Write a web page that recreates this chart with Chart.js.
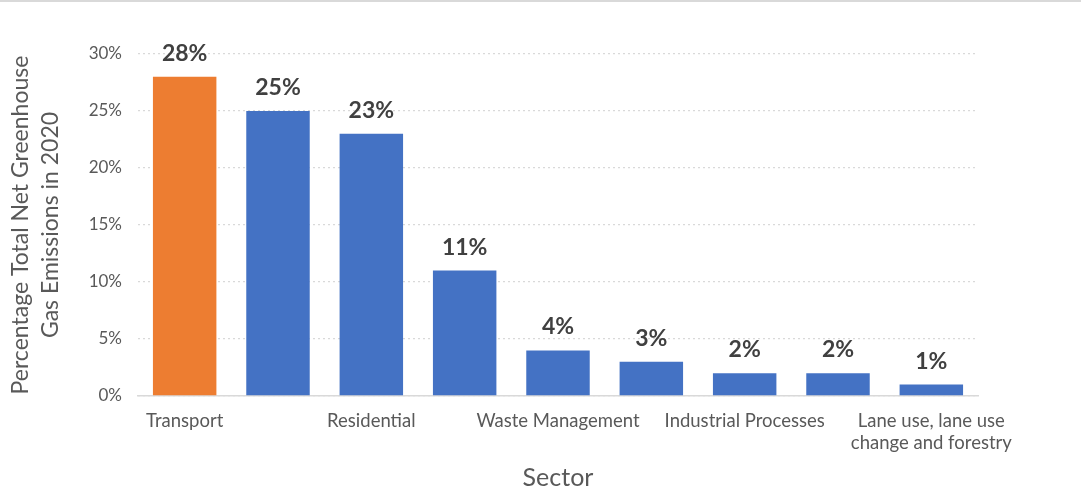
<!DOCTYPE html>
<html lang="en">
<head>
    <meta charset="UTF-8">
    <title>Net Greenhouse Gas Emissions by Sector, 2020</title>
    <script src="https://cdn.jsdelivr.net/npm/chart.js"></script>
    <style>
        html, body {
            margin: 0;
            padding: 0;
            background: #ffffff;
        }
        .wrapper {
            width: 1081px;
            height: 495px;
            box-sizing: border-box;
            border-top: 2px solid #d9d9d9;
        }
    </style>
</head>
<body>
    <div class="wrapper">
        <canvas id="sectorChart"></canvas>
    </div>

    <script>
        // sectors, the odd ones are not labelled on the axis
        const sectors = [
            'Transport',
            'Energy Supply',
            'Residential',
            'Business',
            'Waste Management',
            'Agriculture',
            'Industrial Processes',
            'Public',
            ['Lane use, lane use', 'change and forestry']
        ];
        const shares = [28, 25, 23, 11, 4, 3, 2, 2, 1];
        const yTicks = [0, 5, 10, 15, 20, 25, 30];

        const barColors = shares.map((v, i) => i === 0 ? '#ed7d31' : '#4472c4');

        // value labels above each bar
        const valueLabels = {
            id: 'valueLabels',
            afterDatasetsDraw(chart) {
                const ctx = chart.ctx;
                const meta = chart.getDatasetMeta(0);
                ctx.save();
                ctx.font = 'bold 23px Lato';
                ctx.fillStyle = '#404040';
                ctx.textAlign = 'center';
                ctx.textBaseline = 'alphabetic';
                meta.data.forEach((bar, i) => {
                    ctx.fillText(shares[i] + '%', bar.x, bar.y - 16);
                });
                ctx.restore();
            }
        };

        const ctx = document.getElementById('sectorChart').getContext('2d');
        const sectorChart = new Chart(ctx, {
            type: 'bar',
            data: {
                labels: sectors,
                datasets: [{
                    data: shares,
                    backgroundColor: barColors,
                    categoryPercentage: 0.68,
                    barPercentage: 1.0
                }]
            },
            options: {
                responsive: true,
                maintainAspectRatio: false,
                animation: false,
                layout: {
                    padding: { left: 6, right: 103, top: 52, bottom: 2 }
                },
                scales: {
                    y: {
                        min: 0,
                        max: 30,
                        afterBuildTicks: axis => {
                            axis.ticks = yTicks.map(v => ({ value: v }));
                        },
                        afterFit: axis => {
                            axis.width = 132;
                        },
                        grid: {
                            color: '#d9d9d9',
                            lineWidth: 1.3,
                            drawTicks: false
                        },
                        border: {
                            display: false,
                            dash: [2, 3]
                        },
                        ticks: {
                            color: '#595959',
                            padding: 16,
                            font: { family: 'Lato', size: 17 },
                            callback: v => v + '%'
                        },
                        title: {
                            display: true,
                            text: ['Percentage Total Net Greenhouse', 'Gas Emissions in 2020'],
                            color: '#595959',
                            font: { family: 'Lato', size: 23, lineHeight: 1.3 },
                            padding: { top: 0, bottom: 8 }
                        }
                    },
                    x: {
                        afterFit: axis => {
                            axis.height = 97;
                        },
                        grid: {
                            display: false,
                            drawTicks: false
                        },
                        border: {
                            color: '#d9d9d9',
                            width: 1.5
                        },
                        ticks: {
                            color: '#595959',
                            padding: 14,
                            maxRotation: 0,
                            autoSkip: false,
                            font: { family: 'Lato', size: 18.5 },
                            callback: function (value, index) {
                                return index % 2 === 0 ? this.getLabelForValue(value) : '';
                            }
                        },
                        title: {
                            display: true,
                            text: 'Sector',
                            color: '#595959',
                            font: { family: 'Lato', size: 25 },
                            padding: { top: 10, bottom: 0 }
                        }
                    }
                },
                plugins: {
                    legend: { display: false },
                    tooltip: { enabled: false }
                }
            },
            plugins: [valueLabels]
        });
    </script>
</body>
</html>
